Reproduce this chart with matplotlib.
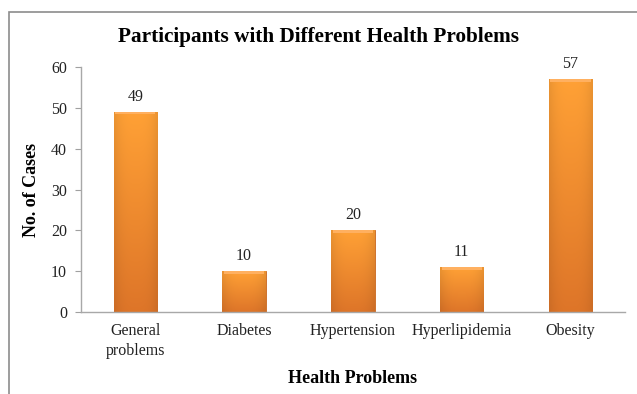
import numpy as np
import matplotlib
matplotlib.use("Agg")
import matplotlib.pyplot as plt
from matplotlib.patches import Rectangle

categories = ["General\nproblems", "Diabetes", "Hypertension", "Hyperlipidemia", "Obesity"]
cases = [49, 10, 20, 11, 57]
yticks = [0, 10, 20, 30, 40, 50, 60]

plt.rcParams["font.family"] = ["Liberation Serif", "DejaVu Serif"]

fig = plt.figure(figsize=(6.37, 3.94), dpi=100)
ax = fig.add_axes([0.127, 0.208, 0.854, 0.622])

x = np.arange(len(categories))
bars = ax.bar(x, cases, width=0.4, color="#F28A2E", edgecolor="#C8661E", linewidth=0.6, zorder=2)

# gradient fill: bright top, darker bottom, slightly darker at the sides
top = np.array([1.00, 0.63, 0.21])
bottom = np.array([0.87, 0.46, 0.16])
ny, nx = 64, 32
t = np.linspace(0, 1, ny)[:, None]
s = np.abs(np.linspace(-1, 1, nx))[None, :]
shade = 1 - 0.08 * s ** 3
grad = (bottom[None, None, :] * (1 - t[..., None]) + top[None, None, :] * t[..., None]) * shade[..., None]
grad = np.clip(grad[::-1], 0, 1)

for b in bars:
    x0, w, h = b.get_x(), b.get_width(), b.get_height()
    im = ax.imshow(grad, extent=(x0, x0 + w, 0, h), aspect="auto", zorder=2.5, interpolation="bilinear")
    im.set_clip_path(b)
    # light bevel at the top edge
    ax.add_patch(Rectangle((x0 + w * 0.04, h - 0.6), w * 0.92, 0.6, facecolor="#FFB060",
                           edgecolor="none", zorder=2.6))
    ax.annotate(f"{h:g}", (x0 + w / 2, h), xytext=(0, 5), textcoords="offset points",
                ha="center", va="bottom", fontsize=11.5, color="#222222")

ax.set_xlim(-0.5, len(categories) - 0.5)
ax.set_ylim(0, 60)
ax.set_yticks(yticks)
ax.set_xticks(x)
ax.set_xticklabels(categories, fontsize=11.5, color="#222222", linespacing=1.35)
ax.tick_params(axis="y", labelsize=11.5, colors="#222222", length=4, color="#A0A0A0", pad=6)
ax.tick_params(axis="x", length=0, pad=8)

for side in ["top", "right"]:
    ax.spines[side].set_visible(False)
for side in ["left", "bottom"]:
    ax.spines[side].set_color("#A8A8A8")
    ax.spines[side].set_linewidth(1.0)

ax.set_ylabel("No. of Cases", fontsize=13, fontweight="bold", va="center")
ax.set_xlabel("Health Problems", fontsize=13, fontweight="bold", va="center")
ax.yaxis.set_label_coords(-0.091, 0.5)
ax.xaxis.set_label_coords(0.5, -0.27)
fig.text(0.5, 1 - 37 / 394, "Participants with Different Health Problems",
         ha="center", va="center", fontsize=15.3, fontweight="bold")

# outer chart border
fig.add_artist(Rectangle((9 / 637, -0.05), 1.0, 1 - 12 / 394 + 0.05, transform=fig.transFigure,
                         facecolor="none", edgecolor="#8C8C8C", linewidth=1.2))

fig.savefig("out.png", dpi=100)
